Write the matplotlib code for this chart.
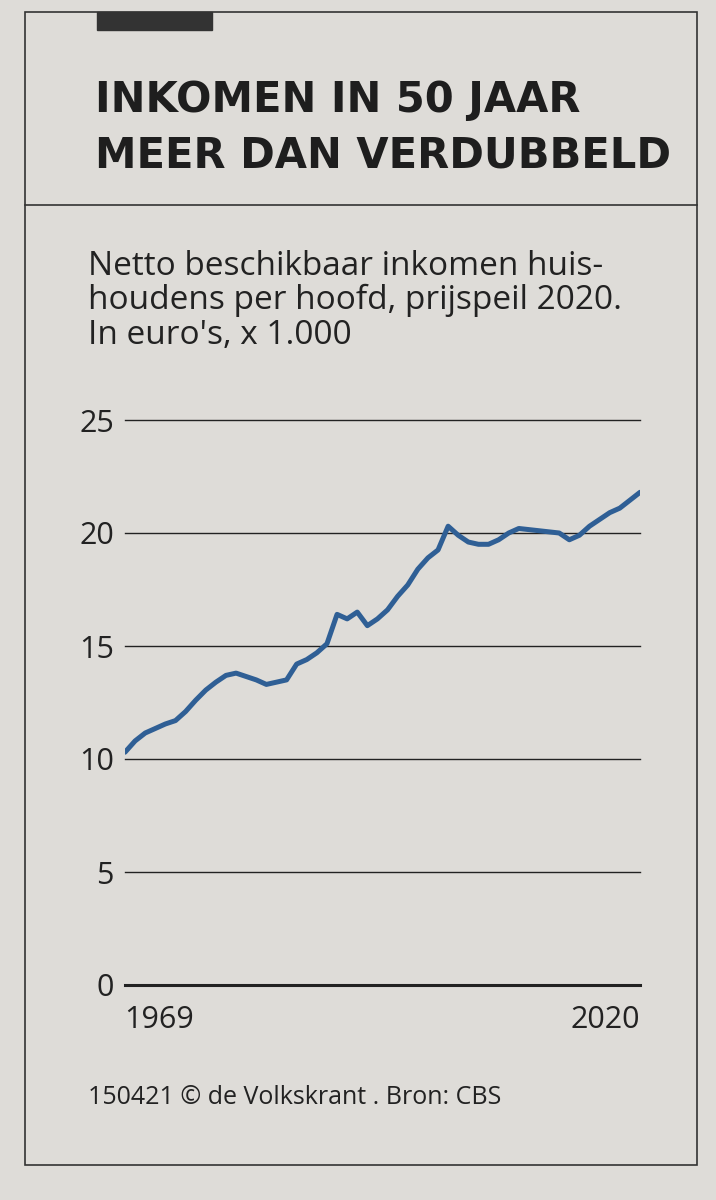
import matplotlib
matplotlib.use("Agg")
import matplotlib.pyplot as plt
from matplotlib.patches import Rectangle

years = list(range(1969, 2021))
income = [10.3, 10.8, 11.15, 11.35, 11.55, 11.7, 12.1, 12.6, 13.05, 13.4,
          13.7, 13.8, 13.65, 13.5, 13.3, 13.4, 13.5, 14.2, 14.4, 14.7,
          15.1, 16.4, 16.2, 16.5, 15.9, 16.2, 16.6, 17.2, 17.7, 18.4,
          18.9, 19.25, 20.3, 19.9, 19.6, 19.5, 19.5, 19.7, 20.0, 20.2,
          20.15, 20.1, 20.05, 20.0, 19.7, 19.9, 20.3, 20.6, 20.9, 21.1,
          21.45, 21.8]
yticks = [0, 5, 10, 15, 20, 25]

bg = "#dedcd8"
fig = plt.figure(figsize=(7.16, 12), dpi=100, facecolor=bg)
W, H = 716, 1200
def fx(x): return x / W
def fy(y): return 1 - y / H

fig.patches.append(Rectangle((fx(25), fy(1165)), fx(672), 1153 / H, transform=fig.transFigure,
                             fill=False, ec="#333333", lw=1.2))
fig.add_artist(plt.Line2D([fx(25), fx(697)], [fy(205), fy(205)], color="#333333", lw=1.2))
fig.patches.append(Rectangle((fx(97), fy(30)), fx(115), 18 / H, transform=fig.transFigure,
                             color="#333333"))

fig.text(fx(95), fy(100), "INKOMEN IN 50 JAAR", fontsize=30, fontweight="heavy",
         family="DejaVu Sans", color="#1e1e1e", va="center")
fig.text(fx(95), fy(155), "MEER DAN VERDUBBELD", fontsize=30, fontweight="heavy",
         family="DejaVu Sans", color="#1e1e1e", va="center")

sub = "Netto beschikbaar inkomen huis-\nhoudens per hoofd, prijspeil 2020.\nIn euro's, x 1.000"
fig.text(fx(88), fy(250), sub, fontsize=24, family="Open Sans", color="#222222",
         va="top", linespacing=1.05)

ax = fig.add_axes([fx(125), fy(985), fx(515), (985 - 420) / H])
ax.set_facecolor("none")
ax.plot(years, income, color="#2f5f95", lw=3.6, solid_capstyle="round")
ax.set_xlim(1969, 2020)
ax.set_ylim(0, 25)
for t in yticks:
    ax.axhline(t, color="#222222", lw=2.2 if t == 0 else 1, zorder=0, clip_on=False)
ax.set_yticks(yticks)
ax.set_yticklabels([str(t) for t in yticks], fontsize=22, family="Open Sans", color="#222222")
ax.tick_params(axis="y", length=0, pad=8)
ax.set_xticks([])
for s in ax.spines.values():
    s.set_visible(False)

fig.text(fx(124), fy(1020), "1969", fontsize=22, family="Open Sans", color="#222222", va="center")
fig.text(fx(640), fy(1020), "2020", fontsize=22, family="Open Sans", color="#222222",
         va="center", ha="right")
fig.text(fx(88), fy(1097), "150421 © de Volkskrant . Bron: CBS", fontsize=18,
         family="Open Sans", color="#222222", va="center")

fig.savefig("out.png", dpi=100, facecolor=bg)
